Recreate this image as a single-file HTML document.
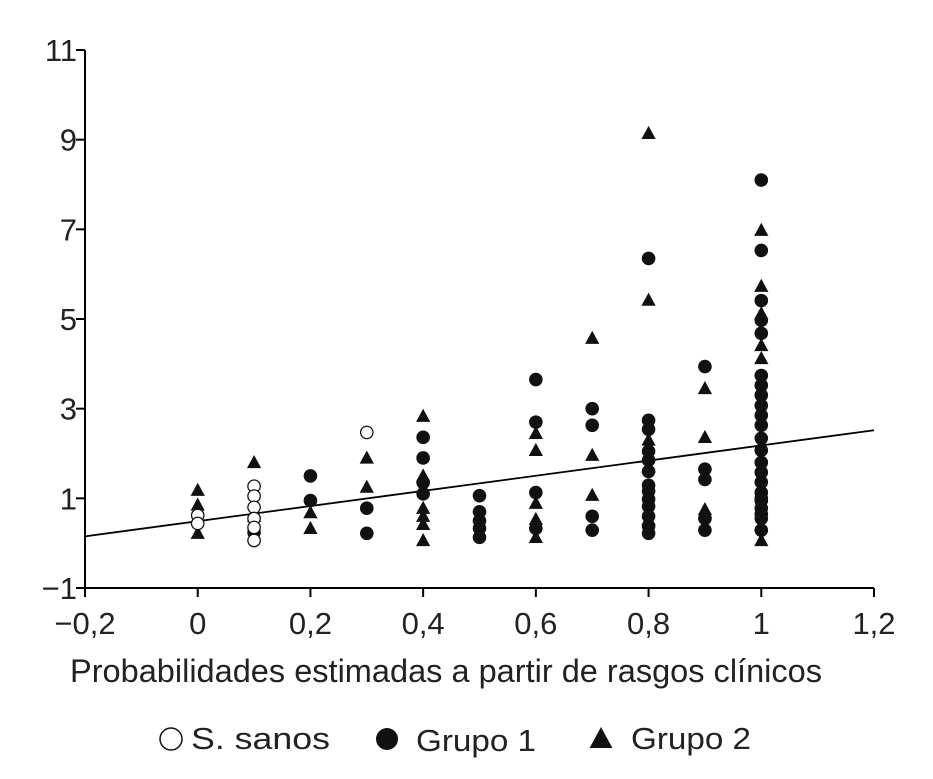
<!DOCTYPE html>
<html><head><meta charset="utf-8"><style>
body{margin:0;background:#fff;}
svg{display:block;font-family:"Liberation Sans",Arial,sans-serif;}
</style></head><body>
<svg id="chart" width="933" height="779"></svg>
<script>
const xTicks=[-0.2,0,0.2,0.4,0.6,0.8,1,1.2];
const xTickLabels=["\u22120,2","0","0,2","0,4","0,6","0,8","1","1,2"];
const yTicks=[-1,1,3,5,7,9,11];
const yTickLabels=["\u22121","1","3","5","7","9","11"];
const sanosX=[0,0,0.1,0.1,0.1,0.1,0.1,0.1,0.3];
const sanosY=[0.62,0.44,1.27,1.05,0.8,0.55,0.35,0.06,2.47];
const g1X=[0.1,0.2,0.2,0.3,0.3,0.4,0.4,0.4,0.4,0.5,0.5,0.5,0.5,0.5,0.6,0.6,0.6,0.6,0.7,0.7,0.7,0.7,0.8,0.8,0.8,0.8,0.8,0.8,0.8,0.8,0.8,0.8,0.8,0.8,0.8,0.9,0.9,0.9,0.9,0.9,1,1,1,1,1,1,1,1,1,1,1,1,1,1,1,1,1,1,1,1,1,1,1];
const g1Y=[0.24,1.5,0.95,0.78,0.22,2.36,1.9,1.35,1.1,1.06,0.7,0.5,0.33,0.13,3.65,2.7,1.13,0.33,3.0,2.63,0.6,0.29,6.35,2.74,2.54,2.05,1.85,1.6,1.29,1.16,0.98,0.82,0.6,0.38,0.22,3.94,1.65,1.42,0.55,0.29,8.1,6.53,5.41,4.97,4.68,3.74,3.52,3.3,3.07,2.85,2.63,2.34,2.07,1.8,1.58,1.36,1.13,0.95,0.78,0.55,0.29,1.0,0.65];
const g2X=[0,0,0,0.1,0.1,0.2,0.2,0.3,0.3,0.4,0.4,0.4,0.4,0.4,0.4,0.6,0.6,0.6,0.6,0.6,0.7,0.7,0.7,0.8,0.8,0.8,0.8,0.8,0.9,0.9,0.9,0.9,1,1,1,1,1,1];
const g2Y=[1.18,0.85,0.22,1.8,0.6,0.68,0.33,1.9,1.25,2.83,1.5,0.78,0.6,0.42,0.06,2.45,2.07,0.89,0.53,0.13,4.57,1.96,1.07,9.14,5.42,2.3,1.7,0.53,3.45,2.36,0.69,0.75,6.98,5.73,5.12,4.41,4.12,0.06];
const regIntercept=0.49, regSlope=1.69;

const NS="http://www.w3.org/2000/svg";
const svg=document.getElementById('chart');
const X0=85,X1=874,Y0=588,Y1=50;
function sx(v){return X0+(v+0.2)/1.4*(X1-X0);}
function sy(v){return Y0-(v+1)/12*(Y0-Y1);}
function mk(tag,attrs,parent){const e=document.createElementNS(NS,tag);for(const k in attrs)e.setAttribute(k,attrs[k]);(parent||svg).appendChild(e);return e;}

const axes=mk('g',{stroke:'#000','stroke-width':2});


mk('line',{x1:X0,y1:Y1,x2:X0,y2:Y0},axes);
mk('line',{x1:X0,y1:Y0,x2:X1,y2:Y0},axes);
xTicks.forEach((t,i)=>{
  mk('line',{x1:sx(t),y1:Y0,x2:sx(t),y2:Y0+9},axes);
  const tx=mk('text',{x:sx(t),y:Y0+46,'text-anchor':'middle','font-size':31,fill:'#222'});
  tx.textContent=xTickLabels[i];
  
  
});
yTicks.forEach((t,i)=>{
  mk('line',{x1:X0-9,y1:sy(t),x2:X0,y2:sy(t)},axes);
  const tx=mk('text',{x:X0-8,y:sy(t)+11,'text-anchor':'end','font-size':31,fill:'#222'});
  tx.textContent=yTickLabels[i];
  
  
});
const xt=mk('text',{x:446,y:682,'text-anchor':'middle','font-size':32,fill:'#222',textLength:752,lengthAdjust:'spacingAndGlyphs'});
xt.textContent='Probabilidades estimadas a partir de rasgos clínicos';



const rl=mk('line',{x1:sx(-0.2),y1:sy(regIntercept+regSlope*-0.2),x2:sx(1.2),y2:sy(regIntercept+regSlope*1.2),stroke:'#000','stroke-width':1.8});



function tri(cx,cy,s){return `${cx},${cy-s} ${cx-s*0.95},${cy+s*0.75} ${cx+s*0.95},${cy+s*0.75}`;}
g2X.forEach((x,i)=>{
  const p=mk('polygon',{points:tri(sx(x),sy(g2Y[i]),7.5),fill:'#111'});
  
  
});
g1X.forEach((x,i)=>{
  const c=mk('circle',{cx:sx(x),cy:sy(g1Y[i]),r:6.8,fill:'#111'});
  
  
});
sanosX.forEach((x,i)=>{
  const c=mk('circle',{cx:sx(x),cy:sy(sanosY[i]),r:6.2,fill:'#fff',stroke:'#111','stroke-width':1.3});
  
  
});

const lg=mk('g',{});


const e1=mk('g',{},lg);


mk('circle',{cx:171,cy:739,r:11,fill:'#fff',stroke:'#111','stroke-width':1.5},e1);
let t=mk('text',{x:191,y:749,'font-size':31,fill:'#222',textLength:139,lengthAdjust:'spacingAndGlyphs'},e1);t.textContent='S. sanos';
const e2=mk('g',{},lg);


mk('circle',{cx:387,cy:739,r:11,fill:'#111'},e2);
t=mk('text',{x:416,y:751,'font-size':31,fill:'#222',textLength:120,lengthAdjust:'spacingAndGlyphs'},e2);t.textContent='Grupo 1';
const e3=mk('g',{},lg);


mk('polygon',{points:tri(601,739,12),fill:'#111'},e3);
t=mk('text',{x:631,y:749,'font-size':31,fill:'#222',textLength:120,lengthAdjust:'spacingAndGlyphs'},e3);t.textContent='Grupo 2';
</script>
</body></html>
